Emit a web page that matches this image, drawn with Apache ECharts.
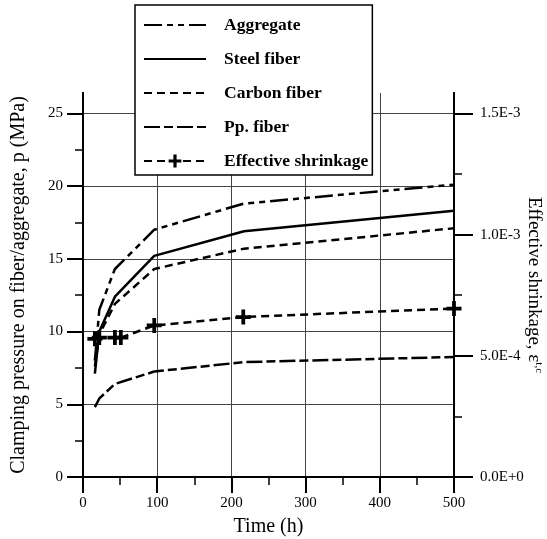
<!DOCTYPE html>
<html>
<head>
<meta charset="utf-8">
<script src="https://cdn.jsdelivr.net/npm/echarts@6/dist/echarts.min.js"></script>
<style>
  html, body { margin: 0; padding: 0; background: #fff; }
  #chart { width: 547px; height: 539px; }
</style>
</head>
<body>
<div id="chart"></div>
<script>
// time (h) of the pressure curves
const times = [16, 22, 43, 96, 217, 500]
// clamping pressure (MPa)
const aggregate = [8.0, 11.5, 14.3, 17.0, 18.8, 20.1]
const steelFiber = [7.1, 10.0, 12.4, 15.2, 16.9, 18.3]
const carbonFiber = [7.6, 9.8, 11.9, 14.3, 15.7, 17.1]
const ppFiber = [4.8, 5.4, 6.4, 7.25, 7.9, 8.25]
// effective shrinkage (right axis)
const shrinkTimes = [16, 22, 43, 51, 96, 216, 500]
const shrinkage = [5.7e-4, 5.75e-4, 5.75e-4, 5.75e-4, 6.25e-4, 6.6e-4, 6.95e-4]

const leftTicks = [0, 5, 10, 15, 20, 25]
const leftMinor = [2.5, 7.5, 12.5, 17.5, 22.5]
const rightTicks = [0, 5e-4, 1e-3, 1.5e-3]
const rightMinor = [2.5e-4, 7.5e-4, 1.25e-3]

const FONT = 'Liberation Serif'
const LEFT_MAX = 26.4
const RIGHT_MAX = LEFT_MAX * 6e-5

const pairs = (xs, ys) => xs.map((x, i) => [x, ys[i]])
const plus = 'path://M3,0H5V3H8V5H5V8H3V5H0V3H3Z'

const chart = echarts.init(document.getElementById('chart'))

const lineSeries = (name, data, type) => ({
  name,
  type: 'line',
  data,
  symbol: 'none',
  lineStyle: { color: '#000', width: 2.5, type },
  itemStyle: { color: '#000' },
  z: 3
})

const yBase = {
  type: 'value',
  min: 0,
  axisLine: { show: true, lineStyle: { color: '#000', width: 2 } },
  splitLine: { show: false },
  axisLabel: { show: false },
  axisTick: { show: false }
}

const sciLabel = v => {
  if (v === 0) return '0.0E+0'
  const e = Math.floor(Math.log10(v) + 1e-9)
  return (v / Math.pow(10, e)).toFixed(1) + 'E' + e
}

const noSymbol = { color: 'rgba(0,0,0,0)', borderWidth: 0 }

const option = {
  animation: false,
  backgroundColor: '#fff',
  grid: { left: 83, right: 93, top: 93, bottom: 62, outerBoundsMode: 'none', containLabel: false },
  legend: {
    orient: 'vertical',
    left: 135,
    top: 5,
    itemWidth: 62,
    itemHeight: 16,
    itemGap: 16,
    padding: [11, 4, 5, 8],
    borderColor: '#000',
    borderWidth: 1.5,
    backgroundColor: '#fff',
    textStyle: { fontFamily: FONT, fontWeight: 'bold', fontSize: 17.5, color: '#000', padding: [0, 0, 0, 13] },
    data: [
      { name: 'Aggregate', itemStyle: noSymbol },
      { name: 'Steel fiber', itemStyle: noSymbol },
      { name: 'Carbon fiber', itemStyle: noSymbol },
      { name: 'Pp. fiber', itemStyle: noSymbol },
      'Effective shrinkage'
    ]
  },
  xAxis: {
    type: 'value',
    min: 0,
    max: 500,
    interval: 100,
    name: 'Time (h)',
    nameLocation: 'middle',
    nameGap: 40,
    nameTextStyle: { fontFamily: FONT, fontSize: 20, color: '#000' },
    axisLine: { lineStyle: { color: '#000', width: 2 } },
    axisTick: { length: 16, lineStyle: { color: '#000', width: 2 } },
    minorTick: { show: true, splitNumber: 2, length: 8, lineStyle: { color: '#000', width: 1.5 } },
    axisLabel: { fontFamily: FONT, fontSize: 15, color: '#000', margin: 19 },
    splitLine: { show: true, lineStyle: { color: '#444', width: 1 } }
  },
  yAxis: [
    {
      type: 'value',
      position: 'left',
      min: 0,
      max: LEFT_MAX,
      interval: 5,
      name: 'Clamping pressure on fiber/aggregate, p (MPa)',
      nameLocation: 'middle',
      nameGap: 54,
      nameTextStyle: { fontFamily: FONT, fontSize: 20, color: '#000' },
      axisLine: { show: true, lineStyle: { color: '#000', width: 2 } },
      axisTick: { show: true, length: 16, customValues: leftTicks, lineStyle: { color: '#000', width: 2 } },
      axisLabel: { fontFamily: FONT, fontSize: 15, color: '#000', margin: 20, customValues: leftTicks },
      splitLine: { show: true, lineStyle: { color: '#444', width: 1 } }
    },
    {
      type: 'value',
      position: 'right',
      min: 0,
      max: RIGHT_MAX,
      interval: 5e-4,
      name: 'Effective shrinkage, ε{s|t,c}',
      nameLocation: 'middle',
      nameRotate: -90,
      nameGap: 69,
      nameMoveOverlap: false,
      nameTextStyle: {
        fontFamily: FONT, fontSize: 19, color: '#000',
        rich: { s: { fontFamily: FONT, fontSize: 11, color: '#000', padding: [0, 0, 10, 0] } }
      },
      axisLine: { show: true, lineStyle: { color: '#000', width: 2 } },
      axisTick: { show: true, length: 19, customValues: rightTicks, lineStyle: { color: '#000', width: 2 } },
      axisLabel: {
        fontFamily: FONT, fontSize: 15, color: '#000', margin: 26, customValues: rightTicks,
        formatter: sciLabel
      },
      splitLine: { show: false }
    },
    Object.assign({}, yBase, {
      position: 'left', max: LEFT_MAX,
      axisTick: { show: true, length: 8, customValues: leftMinor, lineStyle: { color: '#000', width: 1.5 } }
    }),
    Object.assign({}, yBase, {
      position: 'right', max: RIGHT_MAX,
      axisTick: { show: true, length: 8, customValues: rightMinor, lineStyle: { color: '#000', width: 1.5 } }
    })
  ],
  series: [
    lineSeries('Aggregate', pairs(times, aggregate), [18, 5, 6, 5, 6, 5]),
    lineSeries('Steel fiber', pairs(times, steelFiber), 'solid'),
    lineSeries('Carbon fiber', pairs(times, carbonFiber), [8, 5]),
    lineSeries('Pp. fiber', pairs(times, ppFiber), [16, 4, 9, 4]),
    {
      name: 'Effective shrinkage',
      type: 'line',
      yAxisIndex: 1,
      data: pairs(shrinkTimes, shrinkage),
      symbol: plus,
      symbolSize: 15,
      lineStyle: { color: '#000', width: 2.5, type: [8, 5] },
      itemStyle: { color: '#000' },
      z: 3
    }
  ]
}

chart.setOption(option)
</script>
</body>
</html>
